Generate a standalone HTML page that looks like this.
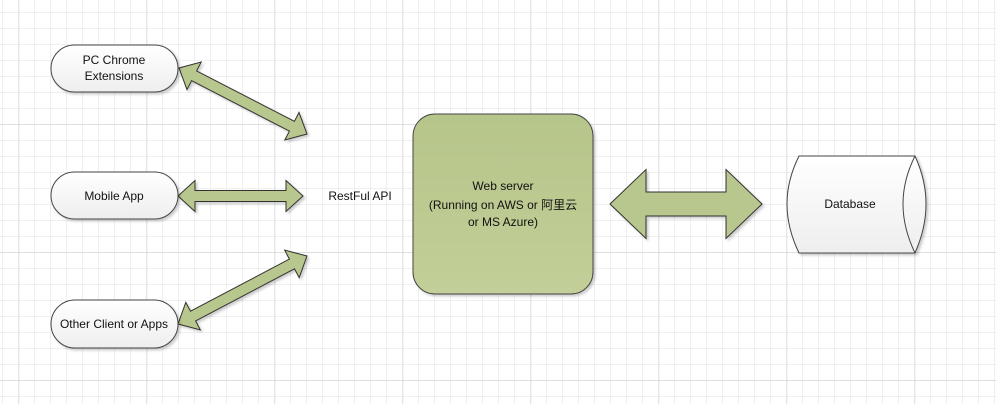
<!DOCTYPE html>
<html><head><meta charset="utf-8"><style>
html,body{margin:0;padding:0;background:#fff}
svg{display:block}
text{font-family:"Liberation Sans","Noto Sans CJK SC",sans-serif;font-size:12px;fill:#111}
</style></head><body>
<svg id="s" width="996" height="404" xmlns="http://www.w3.org/2000/svg">
<defs>
<pattern id="mi" x="2.3" y="12.3" width="16" height="16" patternUnits="userSpaceOnUse">
<path d="M0 0H16M0 0V16" stroke="#e2e2e2" stroke-width="1" fill="none"/>
</pattern>
<pattern id="ma" x="18.7" y="-3.7" width="128" height="128" patternUnits="userSpaceOnUse">
<path d="M0 0H128M0 0V128" stroke="#cdcdcd" stroke-width="1" fill="none"/>
</pattern>
<linearGradient id="wg" x1="0" y1="0" x2="0" y2="1"><stop offset="0" stop-color="#b6c58a"/><stop offset="1" stop-color="#c2cf98"/></linearGradient>
<linearGradient id="pg" x1="0" y1="0" x2="0" y2="1"><stop offset="0" stop-color="#ffffff"/><stop offset="1" stop-color="#eeeeee"/></linearGradient>
<filter id="sh" x="-10%" y="-10%" width="130%" height="130%"><feDropShadow dx="2" dy="2" stdDeviation="1.2" flood-color="#000" flood-opacity="0.2"/></filter>
</defs>
<rect width="996" height="404" fill="url(#mi)"/>
<rect width="996" height="404" fill="url(#ma)"/>
<g id="arrows" filter="url(#sh)"></g>
<g filter="url(#sh)" stroke="#444" stroke-width="1">
<rect x="51" y="45" width="127" height="47" rx="23.5" fill="url(#pg)"/>
<rect x="51" y="172" width="127" height="47" rx="23.5" fill="url(#pg)"/>
<rect x="51" y="300" width="127" height="48" rx="24" fill="url(#pg)"/>
<rect x="413" y="114" width="180" height="180" rx="22" fill="url(#wg)"/>
<path d="M799 156H915Q926 180 926 204Q926 228 915 253H799Q787 228 787 204Q787 180 799 156Z" fill="url(#pg)"/>
<path d="M915 156Q903 180 903 204Q903 228 915 253" fill="none"/>
</g>
<text x="114" y="64" text-anchor="middle">PC Chrome</text>
<text x="114" y="80" text-anchor="middle">Extensions</text>
<text x="114" y="200" text-anchor="middle">Mobile App</text>
<text x="114" y="328" text-anchor="middle">Other Client or Apps</text>
<text x="360" y="200" text-anchor="middle">RestFul API</text>
<text x="503" y="190" text-anchor="middle">Web server</text>
<text x="503" y="209" text-anchor="middle">(Running on AWS or 阿里云</text>
<text x="503" y="226" text-anchor="middle">or MS Azure)</text>
<text x="850" y="208" text-anchor="middle">Database</text>
</svg>
<script>
function arr(x1,y1,x2,y2,sw,hw,hl){
 var dx=x2-x1,dy=y2-y1,L=Math.hypot(dx,dy),ux=dx/L,uy=dy/L,nx=-uy,ny=ux;
 function p(t,o){return (x1+ux*t+nx*o).toFixed(1)+","+(y1+uy*t+ny*o).toFixed(1)}
 var pts=[p(0,0),p(hl,hw),p(hl,sw),p(L-hl,sw),p(L-hl,hw),p(L,0),p(L-hl,-hw),p(L-hl,-sw),p(hl,-sw),p(hl,-hw)];
 var e=document.createElementNS("http://www.w3.org/2000/svg","polygon");
 e.setAttribute("points",pts.join(" "));e.setAttribute("fill","#b8c78d");e.setAttribute("stroke","#333");e.setAttribute("stroke-width","1");
 document.getElementById("arrows").appendChild(e);
}
arr(179,68,307,134,5.5,15.5,17);
arr(178,196,303,196,5.5,15.5,17);
arr(178,324,307,256,5.5,15.5,17);
arr(610,204,762,204,12,34.5,36);
</script>
</body></html>
